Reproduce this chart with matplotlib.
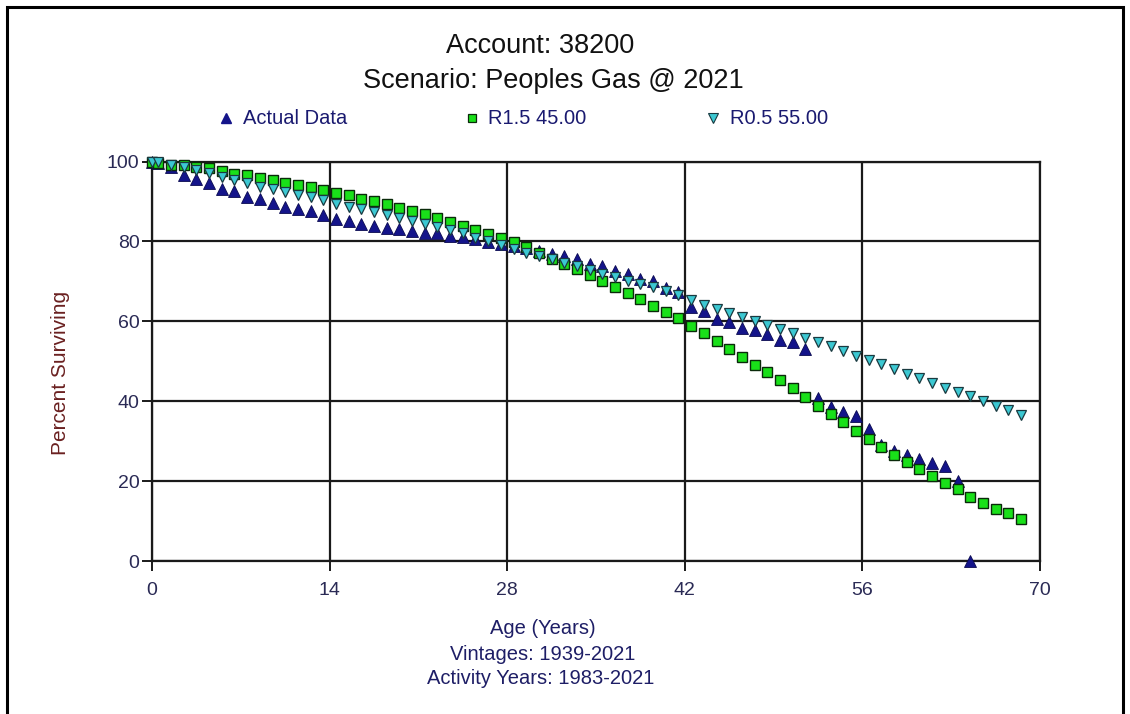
import matplotlib
matplotlib.use("Agg")
import matplotlib.pyplot as plt
from matplotlib.lines import Line2D
from matplotlib.patches import Rectangle

plt.rcParams['font.family'] = ['Liberation Sans', 'DejaVu Sans']

# Ages (years) at which survivorship is plotted
ages = [0, 0.5, 1.5, 2.5, 3.5, 4.5, 5.5, 6.5, 7.5, 8.5, 9.5,
        10.5, 11.5, 12.5, 13.5, 14.5, 15.5, 16.5, 17.5, 18.5, 19.5,
        20.5, 21.5, 22.5, 23.5, 24.5, 25.5, 26.5, 27.5, 28.5, 29.5,
        30.5, 31.5, 32.5, 33.5, 34.5, 35.5, 36.5, 37.5, 38.5, 39.5,
        40.5, 41.5, 42.5, 43.5, 44.5, 45.5, 46.5, 47.5, 48.5, 49.5,
        50.5, 51.5, 52.5, 53.5, 54.5, 55.5, 56.5, 57.5, 58.5, 59.5,
        60.5, 61.5, 62.5, 63.5, 64.5, 65.5, 66.5, 67.5, 68.5]

# Observed survivorship (percent surviving)
actual_ages = ages[:66]
actual_pct = [100.0, 99.7, 98.6, 96.7, 95.6, 94.6, 93.0, 92.5, 91.2, 90.6, 89.6,
              88.7, 88.1, 87.5, 86.7, 85.6, 85.1, 84.4, 83.9, 83.3, 83.0,
              82.5, 82.2, 82.0, 81.4, 81.2, 80.5, 79.8, 79.3, 78.9, 78.3,
              77.6, 76.8, 76.4, 75.5, 74.4, 73.8, 72.6, 71.8, 70.5, 70.1,
              68.4, 67.3, 63.6, 62.6, 60.6, 59.7, 58.3, 57.7, 56.7, 55.2,
              54.9, 53.0, 40.9, 38.6, 37.2, 36.3, 33.0, 29.0, 27.5, 26.5,
              25.5, 24.6, 23.8, 20.0, 0.0]

# Iowa R1.5 curve, 45.00 year average life
r15_pct = [100.0, 99.6, 99.2, 99.0, 98.7, 98.3, 97.6, 96.9, 96.5, 95.9, 95.3,
           94.5, 94.1, 93.7, 92.8, 92.2, 91.5, 90.5, 90.1, 89.3, 88.4,
           87.6, 86.8, 85.8, 84.9, 83.9, 82.9, 81.9, 80.9, 79.9, 78.6,
           77.2, 75.7, 74.4, 73.1, 71.7, 70.1, 68.7, 67.2, 65.6, 63.9,
           62.4, 60.8, 58.9, 57.0, 55.1, 53.0, 51.0, 49.1, 47.2, 45.2,
           43.3, 41.1, 38.9, 36.7, 34.7, 32.6, 30.5, 28.6, 26.6, 24.9,
           23.0, 21.2, 19.4, 18.0, 16.1, 14.6, 13.1, 11.9, 10.6]

# Iowa R0.5 curve, 55.00 year average life
r05_pct = [100.0, 99.8, 99.1, 98.5, 97.8, 97.0, 96.1, 95.3, 94.5, 93.7, 93.0,
           92.3, 91.7, 91.0, 90.3, 89.4, 88.5, 88.0, 87.4, 86.6, 85.9,
           85.1, 84.3, 83.6, 82.9, 82.1, 80.9, 80.0, 79.0, 78.1, 77.2,
           76.4, 75.5, 74.7, 73.8, 72.8, 71.9, 71.0, 70.1, 69.3, 68.5,
           67.6, 66.5, 65.3, 64.2, 63.1, 62.2, 61.2, 60.1, 59.1, 58.0,
           57.0, 55.9, 54.9, 53.7, 52.6, 51.4, 50.3, 49.2, 48.1, 46.9,
           45.7, 44.6, 43.4, 42.3, 41.2, 40.1, 38.9, 37.8, 36.5]

x_ticks = [0, 14, 28, 42, 56, 70]
y_ticks = [0, 20, 40, 60, 80, 100]

W, H = 1130, 714
fig = plt.figure(figsize=(W / 100, H / 100), dpi=100)
fig.patch.set_facecolor('white')


def fx(px):
    return px / W


def fy(py):
    return 1 - py / H


# outer frame
fig.add_artist(Rectangle((fx(7), fy(730)), fx(1123) - fx(7), fy(7) - fy(730),
                         transform=fig.transFigure, fill=False,
                         edgecolor='black', linewidth=2.2, clip_on=False))

ax = fig.add_axes([fx(152), fy(561), fx(1040) - fx(152), fy(161.5) - fy(561)])
ax.set_xlim(0, 70)
ax.set_ylim(0, 100)
ax.set_xticks(x_ticks)
ax.set_yticks(y_ticks)
ax.grid(True, color='#1a1a1a', linewidth=1.6)
ax.set_axisbelow(True)
for s in ax.spines.values():
    s.set_color('#1a1a1a')
    s.set_linewidth(1.6)

tick_color = '#2a2a55'
ax.tick_params(axis='both', direction='out', length=7, width=1.4,
               color='#1a1a1a', labelsize=14, labelcolor=tick_color)
ax.tick_params(axis='x', pad=8)
ax.tick_params(axis='y', pad=2)

navy = '#14148a'
green = '#19e019'
cyan = '#3cc8d2'

ax.plot(actual_ages, actual_pct, linestyle='none', marker='^', markersize=8,
        markerfacecolor=navy, markeredgecolor='#0a0a50', markeredgewidth=0.6,
        zorder=3, clip_on=False)
ax.plot(ages, r15_pct, linestyle='none', marker='s', markersize=7,
        markerfacecolor=green, markeredgecolor='#0a2a0a', markeredgewidth=1.0,
        zorder=4, clip_on=False)
ax.plot(ages, r05_pct, linestyle='none', marker='v', markersize=7.5,
        markerfacecolor=cyan, markeredgecolor='#1a3a40', markeredgewidth=0.9,
        zorder=5, clip_on=False)

# titles
fig.text(fx(540), fy(46), 'Account: 38200', ha='center', va='center',
         fontsize=19.5, color='#111111')
fig.text(fx(553), fy(81), 'Scenario: Peoples Gas @ 2021', ha='center',
         va='center', fontsize=19.5, color='#111111')

# legend row
leg_color = '#1a1a70'
fig.add_artist(Line2D([fx(226)], [fy(118)], marker='^', markersize=7,
                      markerfacecolor=navy, markeredgecolor=navy,
                      transform=fig.transFigure, linestyle='none'))
fig.text(fx(243), fy(118), 'Actual Data', ha='left', va='center',
         fontsize=14.5, color=leg_color)
fig.add_artist(Line2D([fx(472)], [fy(118)], marker='s', markersize=6,
                      markerfacecolor=green, markeredgecolor='#0a2a0a',
                      markeredgewidth=0.9,
                      transform=fig.transFigure, linestyle='none'))
fig.text(fx(488), fy(118), 'R1.5 45.00', ha='left', va='center',
         fontsize=14.5, color=leg_color)
fig.add_artist(Line2D([fx(713)], [fy(118)], marker='v', markersize=6.5,
                      markerfacecolor=cyan, markeredgecolor='#1a3a40',
                      markeredgewidth=0.8,
                      transform=fig.transFigure, linestyle='none'))
fig.text(fx(730), fy(118), 'R0.5 55.00', ha='left', va='center',
         fontsize=14.5, color=leg_color)

# axis titles
fig.text(fx(60), fy(373), 'Percent Surviving', rotation=90, ha='center',
         va='center', fontsize=15, color='#6a2020')
label_color = '#1e1e66'
fig.text(fx(543), fy(628), 'Age (Years)', ha='center', va='center',
         fontsize=14.5, color=label_color)
fig.text(fx(543), fy(654), 'Vintages: 1939-2021', ha='center', va='center',
         fontsize=14.5, color=label_color)
fig.text(fx(541), fy(679), 'Activity Years: 1983-2021', ha='center',
         va='center', fontsize=14.5, color=label_color)

fig.savefig('out.png', dpi=100)
